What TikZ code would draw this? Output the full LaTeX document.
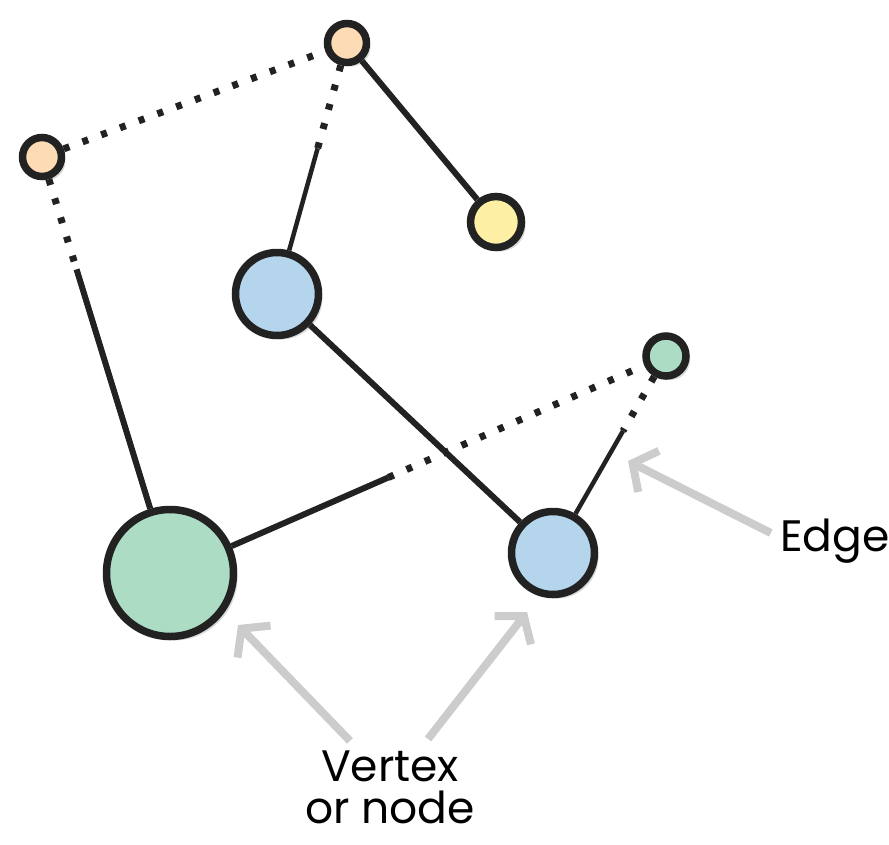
\documentclass[tikz,border=0pt]{standalone}
\usepackage{fontspec}
\setmainfont{Poppins}
\usepackage{tikz}
\usetikzlibrary{calc,arrows.meta,shadows}
\definecolor{ink}{HTML}{222222}
\definecolor{peach}{HTML}{FDDCB5}
\definecolor{butter}{HTML}{FDF0A5}
\definecolor{sky}{HTML}{B4D5EC}
\definecolor{mint}{HTML}{ACDDC4}
\definecolor{callgray}{HTML}{CCCCCC}

\begin{document}
\begin{tikzpicture}[
    x=1pt, y=-1pt,
    vtx/.style={circle, draw=ink, line width=7.5pt, inner sep=0pt,
        drop shadow={opacity=0.3, shadow xshift=4pt, shadow yshift=-4pt}},
    edge/.style={line width=6pt, draw=ink},
    dots/.style={line width=7pt, draw=ink, dash pattern=on 6pt off 14pt},
    callout/.style={-{Straight Barb[length=18pt, width=46pt]}, line width=8pt, draw=callgray},
    lbl/.style={font=\fontsize{44}{52}\selectfont, align=center, text=black}
]
    \useasboundingbox (0,0) rectangle (889,844);

    % vertices
    \node[vtx, fill=peach, minimum size=39pt] (topO) at (347,43) {};
    \node[vtx, fill=peach, minimum size=39pt] (leftO) at (42,157) {};
    \node[vtx, fill=butter, minimum size=51pt] (yel) at (496,222) {};
    \node[vtx, fill=sky, minimum size=83pt] (blueA) at (277,294) {};
    \node[vtx, fill=mint, minimum size=40pt] (mintS) at (666,356) {};
    \node[vtx, fill=mint, minimum size=127pt] (mintB) at (170,573) {};
    \node[vtx, fill=sky, minimum size=83pt] (blueB) at (553,553) {};

    % edges, some partly dotted
    \coordinate (brkA) at ($(topO)!0.42!(blueA)$);
    \coordinate (brkB) at ($(leftO)!0.27!(mintB)$);
    \coordinate (brkC) at ($(mintB)!0.44!(mintS)$);
    \coordinate (brkD) at ($(mintS)!0.38!(blueB)$);

    \draw[dots] (leftO) -- (topO);
    \draw[edge] (topO) -- (yel);
    \draw[dots] (topO) -- (brkA);
    \draw[edge, line width=4.5pt] (brkA) -- (blueA);
    \draw[dots] (leftO) -- (brkB);
    \draw[edge] (brkB) -- (mintB);
    \draw[edge] (blueA) -- (blueB);
    \draw[edge] (mintB) -- (brkC);
    \draw[dots] (brkC) -- (mintS);
    \draw[dots] (mintS) -- (brkD);
    \draw[edge, line width=4.5pt] (brkD) -- (blueB);

    % labels and pointers
    \node[lbl] (elabel) at (835,541) {Edge};
    \node[lbl] (vlabel) at (390,787) {Vertex\\[-10pt]or node};

    \coordinate (tipE) at (628,461);
    \coordinate (tipA) at (238,625);
    \coordinate (tipB) at (527,612);

    \draw[callout] ([xshift=-6pt, yshift=8pt]elabel.west) -- (tipE);
    \draw[callout] ([xshift=-40pt, yshift=6pt]vlabel.north) -- (tipA);
    \draw[callout] ([xshift=38pt, yshift=8pt]vlabel.north) -- (tipB);
\end{tikzpicture}
\end{document}
